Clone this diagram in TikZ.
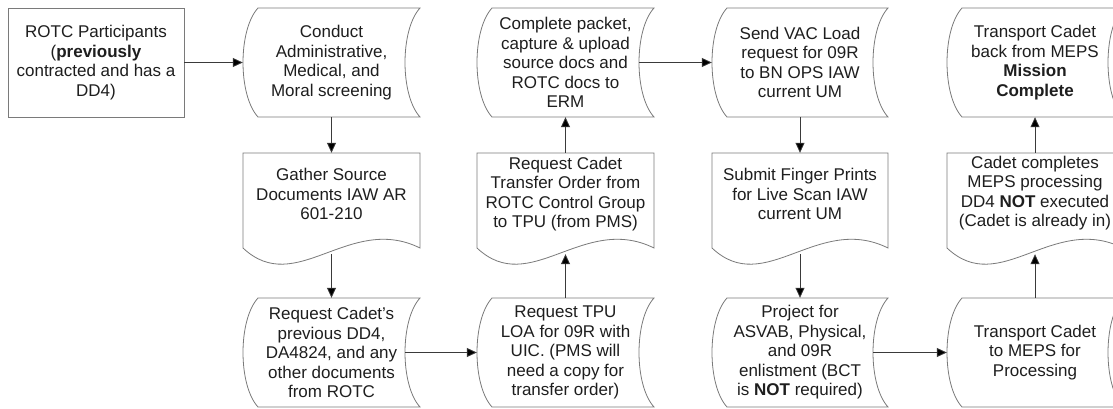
\documentclass[tikz,border=0pt]{standalone}
\usepackage{fontspec}
\setmainfont{Liberation Sans}
\usetikzlibrary{arrows.meta}
\definecolor{bordergray}{HTML}{7A7A7A}
\definecolor{linegray}{HTML}{3A3A3A}
\definecolor{txtcol}{HTML}{1E1E1E}
\newcommand\StoredShape[4]{% L R T B
  \draw[shp] ({#1+15},#3) -- (#2,#3) .. controls ({#2-20},{#3+0.2*(#4-#3)}) and ({#2-20},{#4-0.2*(#4-#3)}) .. (#2,#4) -- ({#1+15},#4) .. controls ({#1-5},{#4-0.2*(#4-#3)}) and ({#1-5},{#3+0.2*(#4-#3)}) .. cycle;}
\newcommand\DocShape[4]{% L R T B
  \draw[shp] (#1,#3) -- (#2,#3) -- (#2,#4) .. controls ({#1+0.6*(#2-#1)},{#4-35}) and ({#1+0.3*(#2-#1)},{#4+50}) .. (#1,#4) -- cycle;}
\begin{document}
\begin{tikzpicture}[x=1pt,y=-1pt,
  shp/.style={draw=bordergray,line width=0.8pt,fill=white},
  box/.style={draw=none,inner sep=0pt,minimum width=#1},
  txt/.style={align=center,text=txtcol,inner sep=0pt,font=\fontsize{17}{19.5}\selectfont},
  arr/.style={draw=linegray,line width=0.8pt,-{Triangle[length=10pt,width=9pt,fill=black]}}]
\useasboundingbox (0,0) rectangle (1113,409);
\fill[white] (0,0) rectangle (1113,409);
% ---- shapes ----
\draw[shp] (8,8) rectangle (184,117);
\StoredShape{243}{420}{8}{117}
\DocShape{243}{420}{153}{248}
\StoredShape{243}{420}{298}{407}
\StoredShape{477}{654}{298}{407}
\DocShape{477}{654}{153}{248}
\StoredShape{477}{654}{8}{117}
\StoredShape{712}{888}{8}{117}
\DocShape{712}{888}{153}{248}
\StoredShape{712}{888}{298}{407}
\StoredShape{947}{1123}{298}{407}
\DocShape{947}{1123}{153}{248}
\StoredShape{947}{1123}{8}{117}
% ---- geometry nodes ----
\node[box=176pt,minimum height=109pt] (rotc) at (96,62.5) {};
\node[box=177pt,minimum height=109pt] (conduct) at (331.5,62.5) {};
\node[box=177pt,minimum height=95pt] (gather) at (331.5,200.5) {};
\node[box=177pt,minimum height=109pt] (reqdd) at (331.5,352.5) {};
\node[box=177pt,minimum height=109pt] (tpu) at (565.5,352.5) {};
\node[box=177pt,minimum height=95pt] (transfer) at (565.5,200.5) {};
\node[box=177pt,minimum height=109pt] (packet) at (565.5,62.5) {};
\node[box=176pt,minimum height=109pt] (vac) at (800,62.5) {};
\node[box=176pt,minimum height=95pt] (finger) at (800,200.5) {};
\node[box=176pt,minimum height=109pt] (project) at (800,352.5) {};
\node[box=176pt,minimum height=109pt] (meps) at (1035,352.5) {};
\node[box=176pt,minimum height=95pt] (completes) at (1035,200.5) {};
\node[box=176pt,minimum height=109pt] (back) at (1035,62.5) {};
% ---- texts ----
\node[txt] (rotc-t) at (96,62.5) {ROTC Participants\\(\textbf{previously}\\contracted and has a\\DD4)};
\node[txt] (conduct-t) at (331.5,62.5) {Conduct\\Administrative,\\Medical, and\\Moral screening};
\node[txt] (gather-t) at (331.5,194) {Gather Source\\Documents IAW AR\\601-210};
\node[txt] (reqdd-t) at (331.5,352.5) {Request Cadet’s\\previous DD4,\\DA4824, and any\\other documents\\from ROTC};
\node[txt] (tpu-t) at (565.5,352.5) {Request TPU\\LOA for 09R with\\UIC. (PMS will\\need a copy for\\transfer order)};
\node[txt] (transfer-t) at (565.5,194) {Request Cadet\\Transfer Order from\\ROTC Control Group\\to TPU (from PMS)};
\node[txt] (packet-t) at (565.5,62.5) {Complete packet,\\capture \& upload\\source docs and\\ROTC docs to\\ERM};
\node[txt] (vac-t) at (800,62.5) {Send VAC Load\\request for 09R\\to BN OPS IAW\\current UM};
\node[txt] (finger-t) at (800,194) {Submit Finger Prints\\for Live Scan IAW\\current UM};
\node[txt] (project-t) at (800,352.5) {Project for\\ASVAB, Physical,\\and 09R\\enlistment (BCT\\is \textbf{NOT} required)};
\node[txt] (meps-t) at (1035,352.5) {Transport Cadet\\to MEPS for\\Processing};
\node[txt] (completes-t) at (1035,193) {Cadet completes\\MEPS processing\\DD4 \textbf{NOT} executed\\(Cadet is already in)};
\node[txt] (back-t) at (1035,62.5) {Transport Cadet\\back from MEPS\\\textbf{Mission}\\\textbf{Complete}};
% ---- connectors ----
\draw[arr] (rotc.east) -- (conduct.west);
\draw[arr] (conduct.south) -- (gather.north);
\draw[arr] ([yshift=-6pt]gather.south) -- (reqdd.north);
\draw[arr] ([xshift=-15pt]reqdd.east) -- (tpu.west);
\draw[arr] (tpu.north) -- ([yshift=-6pt]transfer.south);
\draw[arr] (transfer.north) -- (packet.south);
\draw[arr] ([xshift=-15pt]packet.east) -- (vac.west);
\draw[arr] (vac.south) -- (finger.north);
\draw[arr] ([yshift=-6pt]finger.south) -- (project.north);
\draw[arr] ([xshift=-15pt]project.east) -- (meps.west);
\draw[arr] (meps.north) -- ([yshift=-6pt]completes.south);
\draw[arr] (completes.north) -- (back.south);
\end{tikzpicture}
\end{document}
